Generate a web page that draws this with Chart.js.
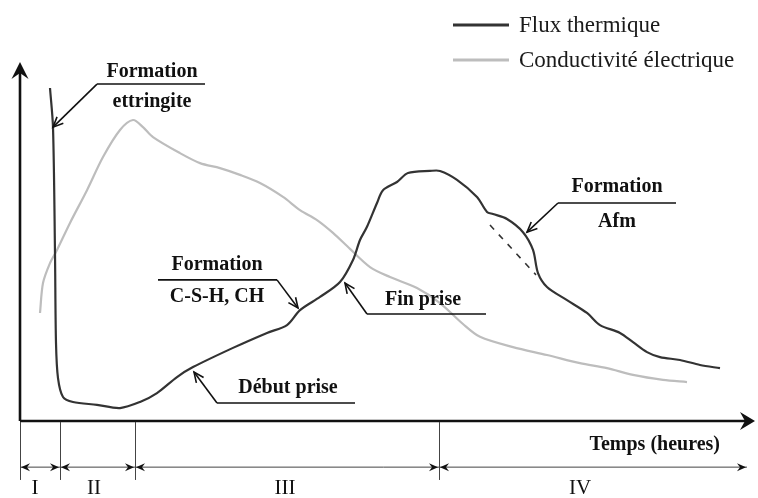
<!DOCTYPE html>
<html><head><meta charset="utf-8">
<script src="https://cdn.jsdelivr.net/npm/chart.js@4/dist/chart.umd.min.js"></script>
<style>html,body{margin:0;padding:0;background:#fff}</style>
</head><body>
<canvas id="c" width="758" height="498"></canvas>
<script>
// ---- Data (time in arbitrary hours, value in arbitrary % of scale) ----
const fluxX = [3.0,3.3,3.5,3.6,3.8,4.3,5.3,7.7,10.0,12.0,13.7,15.7,17.3,21.3,24.7,26.7,28.0,30.0,32.0,33.3,34.0,34.7,35.7,36.3,37.7,38.8,41.0,42.0,43.7,45.7,46.7,47.3,48.7,50.3,51.3,51.8,52.7,54.7,56.7,58.0,60.0,61.3,62.7,64.0,66.0,68.0,70.0];
const fluxY = [92.7,81.7,46.3,21.1,11.2,5.9,4.5,3.7,2.8,4.5,7.0,11.5,14.3,19.7,23.9,26.1,30.3,34.0,38.2,44.4,50.0,53.7,60.4,64.0,66.3,68.8,69.4,69.4,66.9,62.1,57.9,57.3,55.9,52.2,47.2,40.7,36.8,33.1,29.5,26.1,23.9,21.3,18.5,17.1,16.3,14.9,14.0];
const afmX = [47.0,51.6];
const afmY = [54.2,40.2];
const condX = [2.0,2.3,3.0,3.7,5.0,6.7,8.3,10.0,11.3,12.3,13.3,16.0,18.0,20.0,22.0,24.0,26.3,28.0,29.7,31.3,33.0,35.0,37.0,39.7,42.0,44.3,46.0,49.3,52.7,56.0,58.7,61.3,64.3,66.7];
const condY = [29.5,37.9,43.5,47.2,54.8,64.0,73.3,80.9,83.7,81.7,78.9,74.4,71.6,70.2,68.3,66.0,62.1,58.4,55.6,52.0,47.5,42.4,39.6,36.5,32.3,26.4,22.8,19.9,17.7,15.4,14.0,12.1,10.7,10.1];
const seriesNames = ["Flux thermique","Conductivité électrique"];
const phaseBounds = [0,4.0,11.5,41.9,72.7];
const phaseNames = ["I","II","III","IV"];
const phaseLabelX = [1.5,7.4,26.5,56.0];
const xTitle = "Temps (heures)";
// annotations: [lines of text], text centre x, top line y, bottom line y, underline x0,x1,y, arrow from -> to
const notes = [
  {t1:"Formation", t2:"ettringite", cx:13.2, y1:97.2, y2:88.8, ux0:7.7, ux1:18.5, uy:93.8, ax0:7.7, ay0:93.8, ax1:3.3, ay1:81.7},
  {t1:"Formation", t2:"Afm", cx:59.7, y1:64.9, y2:55.1, ux0:53.8, ux1:65.6, uy:60.4, ax0:53.8, ay0:60.4, ax1:50.7, ay1:52.2},
  {t1:"Formation", t2:"C-S-H, CH", cx:19.7, y1:43.0, y2:34.0, ux0:13.8, ux1:25.7, uy:38.8, ax0:25.7, ay0:38.8, ax1:27.8, ay1:30.9},
  {t1:"Fin prise", t2:null, cx:40.3, y1:33.1, ux0:34.7, ux1:46.6, uy:29.2, ax0:34.7, ay0:29.2, ax1:32.5, ay1:37.9},
  {t1:"Début prise", t2:null, cx:26.8, y1:8.4, ux0:19.7, ux1:33.5, uy:4.2, ax0:19.7, ay0:4.2, ax1:17.4, ay1:12.9}
];

const pts = (xs, ys) => xs.map((x,i)=>({x:x, y:ys[i]}));
const SERIF = '"Liberation Serif", "DejaVu Serif", serif';
const INK = '#111';

function openHead(ctx, x0,y0,x1,y1, len, ang){
  const a = Math.atan2(y1-y0, x1-x0);
  ctx.beginPath();
  ctx.moveTo(x1 - len*Math.cos(a-ang), y1 - len*Math.sin(a-ang));
  ctx.lineTo(x1,y1);
  ctx.lineTo(x1 - len*Math.cos(a+ang), y1 - len*Math.sin(a+ang));
  ctx.stroke();
}
function solidHead(ctx, x0,y0,x1,y1, len, hw, notch){
  const a = Math.atan2(y1-y0, x1-x0);
  const c = Math.cos(a), s = Math.sin(a);
  const bx = x1 - len*c, by = y1 - len*s;
  ctx.beginPath();
  ctx.moveTo(x1,y1);
  ctx.lineTo(bx - hw*s, by + hw*c);
  ctx.lineTo(x1 - (len-notch)*c, y1 - (len-notch)*s);
  ctx.lineTo(bx + hw*s, by - hw*c);
  ctx.closePath();
  ctx.fill();
}

const deco = {
  id:'deco',
  afterDraw(chart){
    const ctx = chart.ctx, xs = chart.scales.x, ys = chart.scales.y, ca = chart.chartArea;
    const X = v => xs.getPixelForValue(v), Y = v => ys.getPixelForValue(v);
    ctx.save();
    // main axes
    ctx.strokeStyle = INK; ctx.fillStyle = INK; ctx.lineWidth = 2.6; ctx.lineCap='butt';
    const ox = ca.left, oy = ca.bottom;
    ctx.beginPath(); ctx.moveTo(ox, oy); ctx.lineTo(ox, ca.top+10); ctx.stroke();
    ctx.beginPath(); ctx.moveTo(ox, oy); ctx.lineTo(ca.right-10, oy); ctx.stroke();
    solidHead(ctx, ox, oy, ox, ca.top, 17, 8.5, 6);
    solidHead(ctx, ox, oy, ca.right, oy, 15, 9, 5);
    // x title
    ctx.font = 'bold 20px '+SERIF; ctx.textAlign='right'; ctx.textBaseline='middle';
    ctx.fillText(xTitle, X(70.0), Y(-7.6));
    // phases
    ctx.lineWidth = 1; ctx.strokeStyle = '#444'; ctx.fillStyle = INK;
    const yT = Y(-1.1), yB = Y(-17.4), yL = Y(-13.8);
    for (let i=0;i<phaseBounds.length-1;i++){
      const px = Math.round(X(phaseBounds[i]))+0.5;
      ctx.beginPath(); ctx.moveTo(px,yT); ctx.lineTo(px,yB); ctx.stroke();
    }
    ctx.beginPath(); ctx.moveTo(X(phaseBounds[0]), yL); ctx.lineTo(X(phaseBounds[phaseBounds.length-1]), yL); ctx.stroke();
    for (let i=0;i<phaseBounds.length-1;i++){
      const a = X(phaseBounds[i]), b = X(phaseBounds[i+1]);
      solidHead(ctx, a+20, yL, a+1, yL, 9, 4, 3);
      solidHead(ctx, b-20, yL, b-1, yL, 9, 4, 3);
    }
    ctx.font = '21px '+SERIF; ctx.textAlign='center'; ctx.textBaseline='middle';
    phaseNames.forEach((n,i)=>ctx.fillText(n, X(phaseLabelX[i]), Y(-19.7)));
    // annotations
    ctx.font = 'bold 20px '+SERIF; ctx.fillStyle = INK; ctx.strokeStyle = INK; ctx.lineWidth = 1.6;
    notes.forEach(n=>{
      ctx.fillText(n.t1, X(n.cx), Y(n.y1));
      if (n.t2) ctx.fillText(n.t2, X(n.cx), Y(n.y2));
      ctx.beginPath(); ctx.moveTo(X(n.ux0), Y(n.uy)); ctx.lineTo(X(n.ux1), Y(n.uy)); ctx.stroke();
      ctx.beginPath(); ctx.moveTo(X(n.ax0), Y(n.ay0)); ctx.lineTo(X(n.ax1), Y(n.ay1)); ctx.stroke();
      openHead(ctx, X(n.ax0), Y(n.ay0), X(n.ax1), Y(n.ay1), 11, 0.42);
    });
    // legend
    ctx.font = '23px '+SERIF; ctx.textAlign='left'; ctx.textBaseline='middle';
    const legY = [25, 60];
    [0,2].forEach((di,k)=>{
      const ds = chart.data.datasets[di];
      ctx.strokeStyle = ds.borderColor; ctx.lineWidth = 3.2;
      ctx.beginPath(); ctx.moveTo(453, legY[k]); ctx.lineTo(509, legY[k]); ctx.stroke();
      ctx.fillStyle = '#1a1a1a';
      ctx.fillText(ds.label, 519, legY[k]+1);
    });
    ctx.restore();
  }
};

new Chart(document.getElementById('c'), {
  type:'line',
  data:{ datasets:[
    {label:seriesNames[0], data:pts(fluxX,fluxY), borderColor:'#333', borderWidth:2.2, pointRadius:0, tension:0.3, fill:false},
    {label:'Afm', data:pts(afmX,afmY), borderColor:'#333', borderWidth:1.6, borderDash:[6,7], pointRadius:0, fill:false},
    {label:seriesNames[1], data:pts(condX,condY), borderColor:'#bdbdbd', borderWidth:2.2, pointRadius:0, tension:0.3, fill:false}
  ]},
  options:{
    responsive:false, animation:false, devicePixelRatio:1,
    layout:{padding:{left:20, top:62, right:3, bottom:77}},
    plugins:{legend:{display:false}, tooltip:{enabled:false}, title:{display:false}},
    scales:{
      x:{type:'linear', display:false, min:0, max:73.5},
      y:{type:'linear', display:false, min:-0.84, max:100}
    }
  },
  plugins:[deco]
});
</script>
</body></html>
